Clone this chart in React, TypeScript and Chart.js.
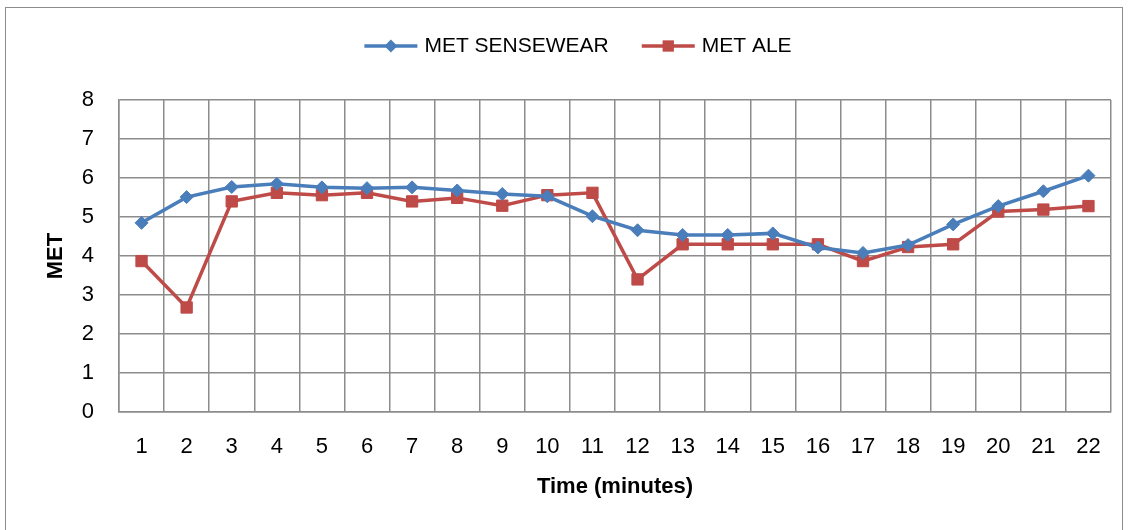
import React, { useEffect, useRef } from "react";
import { Chart, registerables } from "chart.js";

Chart.register(...registerables);

// Minutes of the test and the MET estimates of both methods
const minutes = ["1", "2", "3", "4", "5", "6", "7", "8", "9", "10", "11", "12", "13", "14", "15", "16", "17", "18", "19", "20", "21", "22"];
const metSensewear = [4.85, 5.51, 5.77, 5.85, 5.76, 5.74, 5.76, 5.68, 5.59, 5.53, 5.02, 4.66, 4.54, 4.54, 4.58, 4.22, 4.08, 4.28, 4.81, 5.28, 5.66, 6.06];
const metAle = [3.87, 2.68, 5.4, 5.62, 5.56, 5.62, 5.4, 5.49, 5.29, 5.56, 5.62, 3.4, 4.3, 4.3, 4.3, 4.3, 3.87, 4.23, 4.3, 5.14, 5.19, 5.28];
const seriesNames = ["MET SENSEWEAR", "MET ALE"];

const BLUE = "#4A7EBB";
const RED = "#BE4B48";
const GRID = "#8c8c8c";
const FONT = "'Liberation Sans', Arial, sans-serif";

// Line-and-marker legend drawn above the plot, like a spreadsheet chart legend
const lineLegend = {
  id: "lineLegend",
  afterDraw(chart: any) {
    const ctx = chart.ctx;
    const lineLen = 53;
    const textGap = 7;
    const itemGap = 33;
    const y = 46;
    ctx.save();
    ctx.font = `21px ${FONT}`;
    const sets = chart.data.datasets;
    const widths = sets.map((d: any) => lineLen + textGap + ctx.measureText(d.label).width);
    const total = widths.reduce((a: number, b: number) => a + b, 0) + itemGap * (sets.length - 1);
    let x = 578 - total / 2;
    sets.forEach((d: any, i: number) => {
      ctx.strokeStyle = d.borderColor;
      ctx.lineWidth = d.borderWidth;
      ctx.beginPath();
      ctx.moveTo(x, y);
      ctx.lineTo(x + lineLen, y);
      ctx.stroke();
      ctx.fillStyle = d.pointBackgroundColor;
      const cx = x + lineLen / 2;
      const r = d.pointRadius;
      ctx.beginPath();
      if (d.pointStyle === "rectRot") {
        ctx.moveTo(cx, y - r);
        ctx.lineTo(cx + r, y);
        ctx.lineTo(cx, y + r);
        ctx.lineTo(cx - r, y);
        ctx.closePath();
      } else {
        const h = r * Math.SQRT1_2;
        ctx.rect(cx - h, y - h, 2 * h, 2 * h);
      }
      ctx.fill();
      ctx.fillStyle = "#000";
      ctx.textBaseline = "middle";
      ctx.textAlign = "left";
      ctx.fillText(d.label, x + lineLen + textGap, y);
      x += widths[i] + itemGap;
    });
    ctx.restore();
  },
};

export default function App() {
  const canvasRef = useRef<HTMLCanvasElement | null>(null);

  useEffect(() => {
    const canvas = canvasRef.current;
    if (!canvas) return;
    const chart = new Chart(canvas, {
      type: "line",
      data: {
        labels: minutes,
        datasets: [
          {
            label: seriesNames[0],
            data: metSensewear,
            borderColor: BLUE,
            backgroundColor: BLUE,
            pointBackgroundColor: BLUE,
            pointBorderColor: BLUE,
            borderWidth: 3.5,
            pointStyle: "rectRot",
            pointRadius: 6.5,
            pointBorderWidth: 1,
            tension: 0,
          },
          {
            label: seriesNames[1],
            data: metAle,
            borderColor: RED,
            backgroundColor: RED,
            pointBackgroundColor: RED,
            pointBorderColor: RED,
            borderWidth: 3.5,
            pointStyle: "rect",
            pointRadius: 8,
            pointBorderWidth: 1,
            tension: 0,
          },
        ],
      },
      options: {
        responsive: false,
        animation: false,
        layout: { padding: { top: 100, right: 20, bottom: 0, left: 0 } },
        plugins: {
          legend: { display: false },
          tooltip: { enabled: false },
        },
        scales: {
          x: {
            offset: true,
            grid: { offset: true, color: GRID, lineWidth: 1.5, drawTicks: false },
            border: { color: GRID, width: 1.5 },
            ticks: { color: "#000", font: { family: FONT, size: 22 }, padding: 22, maxRotation: 0 },
            title: {
              display: true,
              text: "Time (minutes)",
              color: "#000",
              font: { family: FONT, size: 22, weight: "bold" },
              padding: { top: 0, bottom: 30 },
            },
            afterFit(scale: any) {
              scale.height = 118;
            },
          },
          y: {
            min: 0,
            max: 8,
            grid: { color: GRID, lineWidth: 1.5, drawTicks: false },
            border: { color: GRID, width: 1.5 },
            ticks: { stepSize: 1, color: "#000", font: { family: FONT, size: 22 }, padding: 25 },
            title: {
              display: true,
              text: "MET",
              color: "#000",
              font: { family: FONT, size: 22, weight: "bold" },
              padding: { top: 43, bottom: 0 },
            },
            afterFit(scale: any) {
              scale.width = 119;
            },
          },
        },
      },
      plugins: [lineLegend],
    });
    return () => chart.destroy();
  }, []);

  return (
    <div style={{ position: "absolute", left: 0, top: 0, width: 1131, height: 530, background: "#fff", overflow: "hidden" }}>
      <div
        style={{
          position: "absolute",
          left: 5,
          top: 7,
          width: 1118,
          height: 540,
          border: "1.5px solid #8c8c8c",
          boxSizing: "border-box",
        }}
      />
      <canvas ref={canvasRef} width={1131} height={530} style={{ position: "absolute", left: 0, top: 0 }} />
    </div>
  );
}
